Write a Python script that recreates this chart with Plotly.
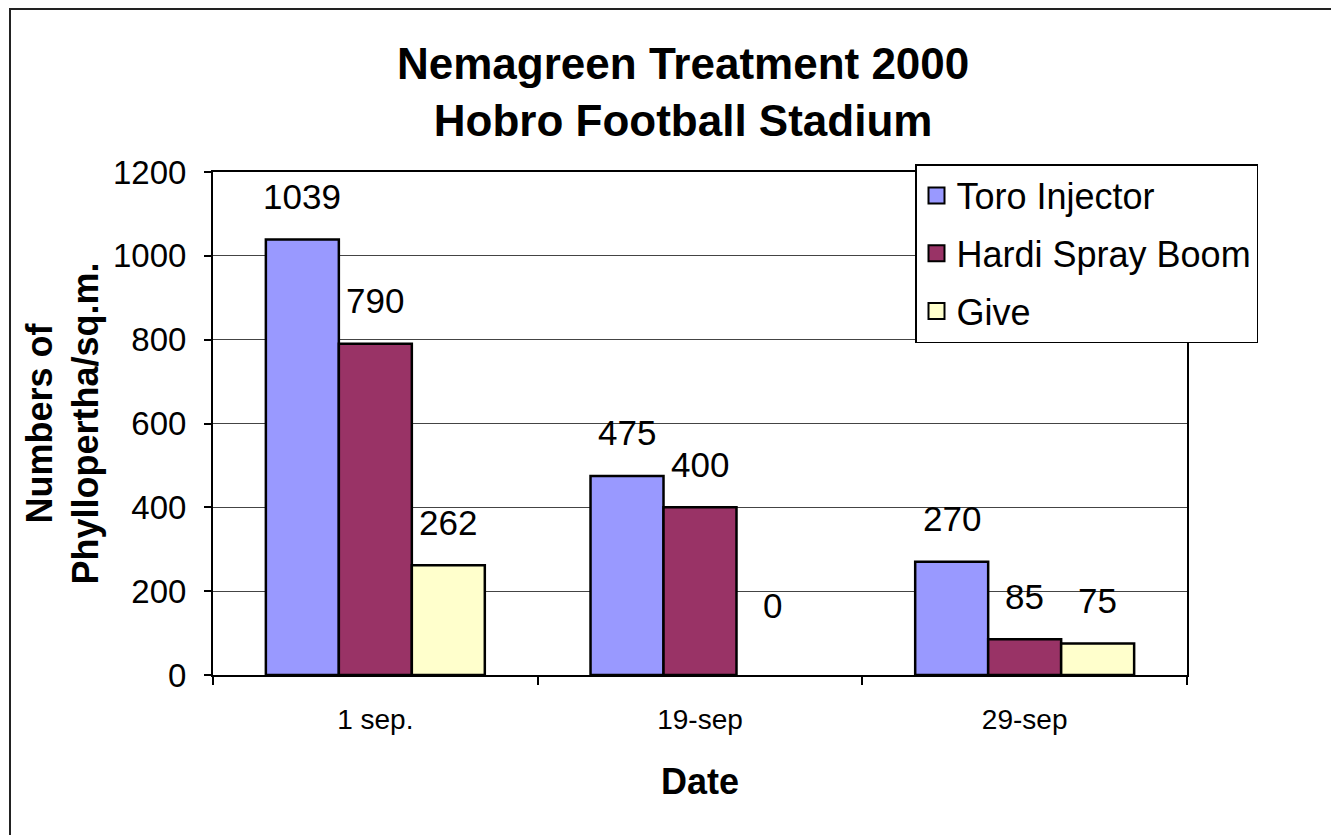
import plotly.graph_objects as go

# ---- data ----
categories = ["1 sep.", "19-sep", "29-sep"]
series_names = ["Toro Injector", "Hardi Spray Boom", "Give"]
toro_values = [1039, 475, 270]
hardi_values = [790, 400, 85]
give_values = [262, 0, 75]
y_tick_values = [0, 200, 400, 600, 800, 1000, 1200]

colors = ["#9999FF", "#993366", "#FFFFCC"]
FONT = "Liberation Sans, Arial, Helvetica, sans-serif"

W, H = 1339, 835
OFF = 8  # page body margin
# plot area in screen px
PX0, PX1, PY0, PY1 = 213, 1187, 172, 675
ML, MT = PX0 - OFF, PY0 - OFF
MR = W - (PX1 - OFF)
MB = H - (PY1 - OFF)
plot_w = PX1 - PX0
ph = PY1 - PY0
BARGAP = 0.3256


def px_x(sx):
    return (sx - PX0) / plot_w


def px_y(sy):
    return (PY1 - sy) / ph


fig = go.Figure()
all_values = [toro_values, hardi_values, give_values]
for i, (name, vals) in enumerate(zip(series_names, all_values)):
    fig.add_trace(go.Bar(
        name=name, x=categories, y=vals,
        marker=dict(color=colors[i],
                    line=dict(color="black", width=[0 if v == 0 else 2.5 for v in vals])),
        legendgroup=name, showlegend=False,
        hoverinfo="skip",
    ))
    # legend entry with a larger square swatch
    fig.add_trace(go.Scatter(
        name=name, x=[None], y=[None], mode="markers",
        marker=dict(symbol="square", size=16, color=colors[i],
                    line=dict(color="black", width=2)),
        legendgroup=name, showlegend=True, hoverinfo="skip",
    ))

# data labels
cat_w = plot_w / len(categories)
bar_w = cat_w * (1 - BARGAP) / 3
for i, vals in enumerate(all_values):
    for c, v in zip(categories, vals):
        fig.add_annotation(
            x=c, y=v, xref="x", yref="y",
            text=str(v), showarrow=False,
            xshift=(i - 1) * bar_w,
            yshift=70 if v == 0 else 43,
            yanchor="middle",
            font=dict(family=FONT, size=35, color="black"),
        )

# title
fig.add_annotation(
    xref="paper", yref="paper", x=px_x(683), y=px_y(92),
    text="<b>Nemagreen Treatment 2000<br>Hobro Football Stadium</b>",
    showarrow=False, xanchor="center", yanchor="middle",
    font=dict(family=FONT, size=44, color="black"),
)

# outer chart border
fig.add_shape(
    type="rect", xref="paper", yref="paper",
    x0=px_x(10), x1=px_x(1400),
    y0=px_y(900), y1=px_y(OFF + 1),
    line=dict(color="#222", width=2), fillcolor="rgba(0,0,0,0)", layer="below",
)

fig.update_layout(
    width=W, height=H,
    margin=dict(l=ML, r=MR, t=MT, b=MB, autoexpand=False),
    paper_bgcolor="white", plot_bgcolor="white",
    barmode="group", bargap=BARGAP, bargroupgap=0,
    font=dict(family=FONT, color="black"),
    showlegend=True,
    legend=dict(
        x=px_x(915), y=px_y(164), xanchor="left", yanchor="top",
        bgcolor="white", bordercolor="black", borderwidth=1.5,
        font=dict(family=FONT, size=36, color="black"),
        traceorder="grouped", tracegroupgap=8, itemsizing="trace",
    ),
    xaxis=dict(
        type="category", categoryorder="array", categoryarray=categories,
        showline=True, linecolor="black", linewidth=2, mirror=True,
        ticks="outside", tickson="boundaries", ticklen=8, tickcolor="black", tickwidth=1.5,
        tickfont=dict(family=FONT, size=28, color="black"),
        ticklabelstandoff=18,
        showgrid=False,
        title=dict(text="<b>Date</b>", font=dict(family=FONT, size=36, color="black"), standoff=35),
        fixedrange=True,
    ),
    yaxis=dict(
        range=[0, 1200], tickvals=y_tick_values,
        showline=True, linecolor="black", linewidth=2, mirror=True,
        ticks="outside", ticklen=7, tickcolor="black", tickwidth=1.5,
        tickfont=dict(family=FONT, size=33, color="black"),
        ticklabelstandoff=11,
        showgrid=True, gridcolor="#444", gridwidth=1,
        zeroline=False,
        title=dict(text="<b>Numbers of<br>Phyllopertha/sq.m.</b>",
                   font=dict(family=FONT, size=36, color="black"), standoff=3),
        fixedrange=True,
    ),
)

fig.write_html("out.html")
